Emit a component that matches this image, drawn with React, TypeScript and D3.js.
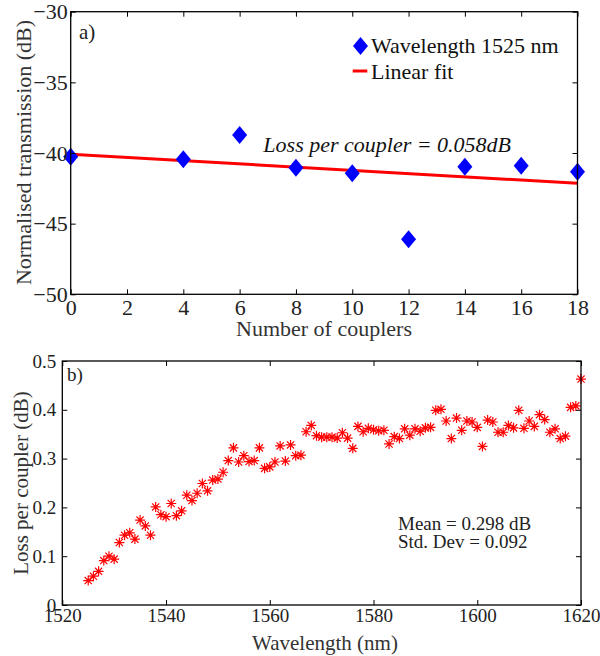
import React, { useEffect, useRef } from 'react';
import * as d3 from 'd3';

// panel a) transmission vs number of couplers
const couplers = [0, 4, 6, 8, 10, 12, 14, 16, 18];
const transmission = [-40.26, -40.45, -38.73, -41.04, -41.44, -46.11, -40.97, -40.9, -41.32];
const fitX = [0, 18];
const fitY = [-40.09, -42.14];
const topXTicks = [0, 2, 4, 6, 8, 10, 12, 14, 16, 18];
const topYTicks = [-50, -45, -40, -35, -30];

// panel b) loss per coupler vs wavelength
const wavelengths = [
  1525, 1526, 1527, 1528, 1529, 1530, 1531, 1532, 1533, 1534, 1535, 1536, 1537, 1538, 1539, 1540,
  1541, 1542, 1543, 1544, 1545, 1546, 1547, 1548, 1549, 1550, 1551, 1552, 1553, 1554, 1555, 1556,
  1557, 1558, 1559, 1560, 1561, 1562, 1563, 1564, 1565, 1566, 1567, 1568, 1569, 1570, 1571, 1572,
  1573, 1574, 1575, 1576, 1577, 1578, 1579, 1580, 1581, 1582, 1583, 1584, 1585, 1586, 1587, 1588,
  1589, 1590, 1591, 1592, 1593, 1594, 1595, 1596, 1597, 1598, 1599, 1600, 1601, 1602, 1603, 1604,
  1605, 1606, 1607, 1608, 1609, 1610, 1611, 1612, 1613, 1614, 1615, 1616, 1617, 1618, 1619, 1620,
];
const lossPerCoupler = [
  0.05, 0.059, 0.069, 0.091, 0.1, 0.094, 0.128, 0.143, 0.148, 0.135, 0.174, 0.162, 0.143, 0.201, 0.185, 0.181,
  0.208, 0.183, 0.193, 0.225, 0.214, 0.229, 0.249, 0.234, 0.256, 0.258, 0.272, 0.296, 0.322, 0.293, 0.306, 0.294,
  0.296, 0.322, 0.28, 0.283, 0.293, 0.326, 0.295, 0.328, 0.306, 0.307, 0.355, 0.368, 0.347, 0.344, 0.344, 0.344,
  0.342, 0.353, 0.342, 0.321, 0.366, 0.355, 0.362, 0.359, 0.357, 0.358, 0.33, 0.345, 0.341, 0.361, 0.348, 0.361,
  0.356, 0.363, 0.364, 0.399, 0.401, 0.377, 0.341, 0.383, 0.358, 0.377, 0.375, 0.364, 0.325, 0.379, 0.375, 0.354,
  0.354, 0.368, 0.363, 0.399, 0.362, 0.377, 0.366, 0.39, 0.38, 0.354, 0.361, 0.341, 0.346, 0.405, 0.408, 0.463,
];
const botXTicks = [1520, 1540, 1560, 1580, 1600, 1620];
const botYTicks = [0, 0.1, 0.2, 0.3, 0.4, 0.5];

const FONT = '"Liberation Serif", "Times New Roman", serif';

// draws the box with inward ticks on all four sides
function drawFrame(g, x, y, xTicks, yTicks, fontSize, xPad, yPad, yFmt) {
  const [x0, x1] = x.range();
  const [y0, y1] = y.range();

  g.append('g')
    .attr('transform', `translate(0,${y0})`)
    .call(d3.axisBottom(x).tickValues(xTicks).tickSize(-5).tickPadding(xPad).tickFormat(d3.format('d')));
  g.append('g')
    .attr('transform', `translate(0,${y1})`)
    .call(d3.axisTop(x).tickValues(xTicks).tickSize(-5).tickFormat(() => ''));
  g.append('g')
    .attr('transform', `translate(${x0},0)`)
    .call(d3.axisLeft(y).tickValues(yTicks).tickSize(-5).tickPadding(yPad).tickFormat(yFmt));
  g.append('g')
    .attr('transform', `translate(${x1},0)`)
    .call(d3.axisRight(y).tickValues(yTicks).tickSize(-5).tickFormat(() => ''));

  g.selectAll('.domain').remove();
  g.selectAll('.tick line').attr('stroke', '#000').attr('stroke-width', 1);
  g.selectAll('.tick text')
    .attr('fill', '#222')
    .style('font-family', FONT)
    .style('font-size', `${fontSize}px`);

  g.append('rect')
    .attr('x', x0)
    .attr('y', y1)
    .attr('width', x1 - x0)
    .attr('height', y0 - y1)
    .attr('fill', 'none')
    .attr('stroke', '#000')
    .attr('stroke-width', 1.3);
}

const App = () => {
  const ref = useRef(null);

  useEffect(() => {
    const svg = d3.select(ref.current);
    svg.selectAll('*').remove();

    // ---------- panel a ----------
    const xa = d3.scaleLinear().domain([0, 18]).range([70.7, 577.5]);
    const ya = d3.scaleLinear().domain([-50, -30]).range([294.3, 11.7]);
    const ga = svg.append('g');

    ga.append('path')
      .datum(fitX.map((v, i) => [v, fitY[i]]))
      .attr('fill', 'none')
      .attr('stroke', '#ff0000')
      .attr('stroke-width', 3)
      .attr('d', d3.line().x((d) => xa(d[0])).y((d) => ya(d[1])));

    const diamond = 'M0,-9L7.5,0L0,9L-7.5,0Z';
    ga.selectAll('.pt')
      .data(couplers.map((c, i) => [c, transmission[i]]))
      .enter()
      .append('path')
      .attr('d', diamond)
      .attr('transform', (d) => `translate(${xa(d[0])},${ya(d[1])})`)
      .attr('fill', '#0000ff');

    drawFrame(ga, xa, ya, topXTicks, topYTicks, 22, 5, 3, d3.format('d'));

    ga.append('text').attr('x', 79).attr('y', 39).text('a)')
      .style('font-family', FONT).style('font-size', '21px').attr('fill', '#222');

    // legend
    ga.append('path').attr('d', diamond).attr('transform', 'translate(360.5,46)').attr('fill', '#0000ff');
    ga.append('text').attr('x', 371).attr('y', 52.5).text('Wavelength 1525 nm')
      .style('font-family', FONT).style('font-size', '22px').attr('fill', '#111');
    ga.append('line').attr('x1', 352.7).attr('x2', 367.3).attr('y1', 71).attr('y2', 71)
      .attr('stroke', '#ff0000').attr('stroke-width', 3);
    ga.append('text').attr('x', 371).attr('y', 79).text('Linear fit')
      .style('font-family', FONT).style('font-size', '22px').attr('fill', '#111');

    ga.append('text').attr('x', 511).attr('y', 151.5).attr('text-anchor', 'end')
      .text('Loss per coupler = 0.058dB')
      .style('font-family', FONT).style('font-size', '22px').style('font-style', 'italic').attr('fill', '#111');

    ga.append('text')
      .attr('transform', 'translate(31,152.5) rotate(-90)')
      .attr('text-anchor', 'middle')
      .text('Normalised transmission (dB)')
      .style('font-family', FONT).style('font-size', '22px').attr('fill', '#333');
    ga.append('text')
      .attr('x', 324).attr('y', 336).attr('text-anchor', 'middle')
      .text('Number of couplers')
      .style('font-family', FONT).style('font-size', '22px').attr('fill', '#333');

    // ---------- panel b ----------
    const xb = d3.scaleLinear().domain([1520, 1620]).range([62.3, 581]);
    const yb = d3.scaleLinear().domain([0, 0.5]).range([605, 361]);
    const gb = svg.append('g');

    const r = 5;
    const k = r * 0.72;
    const star = `M${-r},0L${r},0M0,${-r}L0,${r}M${-k},${-k}L${k},${k}M${-k},${k}L${k},${-k}`;
    gb.selectAll('.star')
      .data(wavelengths.map((w, i) => [w, lossPerCoupler[i]]))
      .enter()
      .append('path')
      .attr('d', star)
      .attr('transform', (d) => `translate(${xb(d[0])},${yb(d[1])})`)
      .attr('fill', 'none')
      .attr('stroke', '#ff0000')
      .attr('stroke-width', 1.2);

    drawFrame(gb, xb, yb, botXTicks, botYTicks, 19, 4, 6, (d) => (d === 0 ? '0' : d3.format('.1f')(d)));

    gb.append('text').attr('x', 67).attr('y', 381).text('b)')
      .style('font-family', FONT).style('font-size', '19px').attr('fill', '#222');

    gb.append('text').attr('x', 398).attr('y', 530).text('Mean = 0.298 dB')
      .style('font-family', FONT).style('font-size', '19px').attr('fill', '#222');
    gb.append('text').attr('x', 398).attr('y', 548).text('Std. Dev = 0.092')
      .style('font-family', FONT).style('font-size', '19px').attr('fill', '#222');

    gb.append('text')
      .attr('transform', 'translate(28,483) rotate(-90)')
      .attr('text-anchor', 'middle')
      .text('Loss per coupler (dB)')
      .style('font-family', FONT).style('font-size', '21px').attr('fill', '#333');
    gb.append('text')
      .attr('x', 325).attr('y', 650).attr('text-anchor', 'middle')
      .text('Wavelength (nm)')
      .style('font-family', FONT).style('font-size', '21px').attr('fill', '#333');
  }, []);

  return (
    <svg
      ref={ref}
      width={600}
      height={656}
      style={{ position: 'absolute', left: 0, top: 0, background: '#fff' }}
    />
  );
};

export default App;
